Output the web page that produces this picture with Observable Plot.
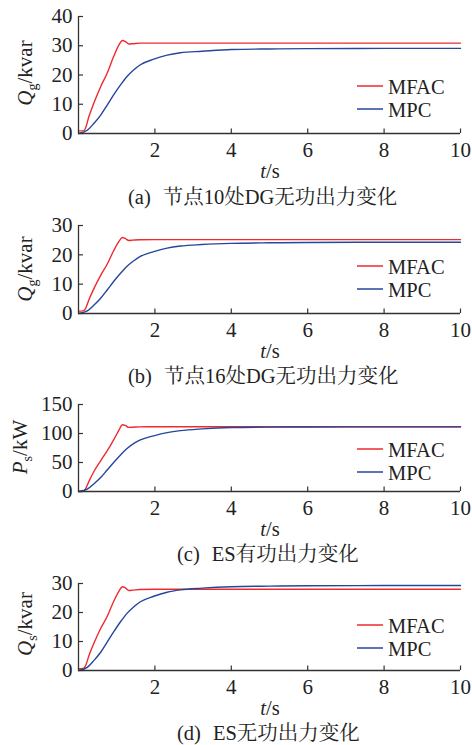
<!DOCTYPE html>
<html>
<head>
<meta charset="utf-8">
<script src="https://cdn.jsdelivr.net/npm/d3@7"></script>
<script src="https://cdn.jsdelivr.net/npm/@observablehq/plot@0.6"></script>
<style>
  html, body { margin: 0; padding: 0; background: #fff; overflow: hidden; }
  #root { position: relative; width: 472px; height: 745px; font-family: "Liberation Serif", "DejaVu Serif", serif; }
  .panel { position: absolute; left: 0; }
  #overlay { position: absolute; left: 0; top: 0; z-index: 2; pointer-events: none; }
  .serif { font-family: "Liberation Serif", "DejaVu Serif", serif; }
  .cap { font-family: "Liberation Serif", "Noto Serif CJK SC", "Noto Sans CJK SC", serif; }
</style>
</head>
<body>
<div id="root"></div>
<script>
// ---- data ----
const xTicks = [2, 4, 6, 8, 10];
const seriesNames = ["MFAC", "MPC"];

const tMFAC = [0, 0.12, 0.18, 0.27, 0.4, 0.58, 0.75, 0.92, 1.06, 1.15, 1.22, 1.32, 1.42, 1.6, 2, 4, 7, 10];
const tMPC  = [0, 0.23, 0.4, 0.58, 0.75, 0.92, 1.1, 1.27, 1.45, 1.62, 1.97, 2.32, 2.67, 3.23, 4, 5, 6, 8, 10];

// (a) node 10 DG reactive power, kvar
const aMFAC = [0.9, 0.9, 1.7, 5.7, 10.3, 16.0, 20.6, 26.3, 30.3, 31.8, 31.5, 30.6, 30.7, 30.9, 30.9, 30.9, 30.9, 30.9];
const aMPC  = [0, 1.1, 3.4, 6.3, 9.7, 13.2, 16.6, 19.5, 21.8, 23.5, 25.4, 26.8, 27.6, 28.1, 28.7, 28.9, 29.0, 29.1, 29.1];
const aTicks = [0, 10, 20, 30, 40];

// (b) node 16 DG reactive power, kvar
const bMFAC = [0.8, 0.9, 1.6, 4.6, 8.4, 13.0, 16.8, 21.4, 24.6, 25.9, 25.6, 24.9, 25.0, 25.15, 25.2, 25.2, 25.2, 25.2];
const bMPC  = [0, 0.9, 2.8, 5.2, 8.0, 10.9, 13.7, 16.1, 18.0, 19.5, 21.1, 22.3, 23.0, 23.5, 23.9, 24.1, 24.2, 24.3, 24.3];
const bTicks = [0, 10, 20, 30];

// (c) ES active power, kW
const cMFAC = [0, 0.5, 4, 17, 34, 53, 70, 89, 106, 115, 114, 110.5, 110.8, 111.5, 111.6, 111.6, 111.6, 111.6];
const cMPC  = [0, 4, 13, 24, 37, 50, 63, 74, 83, 89, 96, 101.5, 105, 108, 110.3, 111, 111.2, 111.4, 111.4];
const cTicks = [0, 50, 100, 150];

// (d) ES reactive power, kvar
const dMFAC = [0.6, 0.7, 1.5, 5.0, 9.3, 14.5, 18.6, 23.8, 27.4, 28.9, 28.6, 27.6, 27.7, 27.95, 28, 28, 28, 28];
const dMPC  = [0, 1.1, 3.4, 6.3, 9.8, 13.3, 16.8, 19.7, 22.0, 23.7, 25.6, 27.0, 27.8, 28.4, 28.9, 29.1, 29.2, 29.3, 29.3];
const dTicks = [0, 10, 20, 30];

const captionTags = ["(a)", "(b)", "(c)", "(d)"];
const captionTexts = ["节点10处DG无功出力变化", "节点16处DG无功出力变化", "ES有功出力变化", "ES无功出力变化"];
const yLabels = [["Q", "g", "kvar"], ["Q", "g", "kvar"], ["P", "s", "kW"], ["Q", "s", "kvar"]];
const xLabel = ["t", "/s"];

// ---- layout ----
const W = 472, ML = 78, MR = 12, MT = 10, MB = 32;
const RED = "#ee2a2f", BLUE = "#25479a", AXIS = "#333";
const SERIF = "'Liberation Serif', 'DejaVu Serif', serif";
const panels = [
  {top: 16,  h: 117, ticks: aTicks, mfac: aMFAC, mpc: aMPC, ylx: 32, yly: 73,  leg: 86,  capY: 204, capX: 128},
  {top: 225, h: 88,  ticks: bTicks, mfac: bMFAC, mpc: bMPC, ylx: 32, yly: 269, leg: 266, capY: 383, capX: 128},
  {top: 404, h: 87,  ticks: cTicks, mfac: cMFAC, mpc: cMPC, ylx: 27, yly: 447, leg: 449, capY: 561, capX: 177},
  {top: 583, h: 87,  ticks: dTicks, mfac: dMFAC, mpc: dMPC, ylx: 32, yly: 624, leg: 625, capY: 740, capX: 177}
];

const root = document.getElementById("root");
const plotW = W - ML - MR;

panels.forEach((p) => {
  const mf = tMFAC.map((t, i) => ({t, v: p.mfac[i]}));
  const mp = tMPC.map((t, i) => ({t, v: p.mpc[i]}));
  const ymax = p.ticks[p.ticks.length - 1];
  const chart = Plot.plot({
    width: W,
    height: p.h + MT + MB,
    marginLeft: ML, marginRight: MR, marginTop: MT, marginBottom: MB,
    style: {fontFamily: SERIF, fontSize: "21px", color: "#222", background: "transparent", overflow: "visible"},
    x: {domain: [0, 10]},
    y: {domain: [0, ymax]},
    marks: [
      Plot.axisX({ticks: xTicks, tickSize: 0, tickPadding: 9, label: null, fontFamily: SERIF}),
      Plot.axisY({ticks: p.ticks, tickSize: 0, tickPadding: 6, label: null, fontFamily: SERIF}),
      Plot.tickX(xTicks, {x: d => d, insetTop: p.h - 4.5, stroke: AXIS, strokeWidth: 1.2}),
      Plot.tickY(p.ticks, {y: d => d, insetRight: plotW - 5, stroke: AXIS, strokeWidth: 1.2}),
      Plot.line(mf, {x: "t", y: "v", stroke: RED, strokeWidth: 1.4, curve: "monotone-x"}),
      Plot.line(mp, {x: "t", y: "v", stroke: BLUE, strokeWidth: 1.4, curve: "monotone-x"}),
      Plot.ruleX([0], {stroke: AXIS, strokeWidth: 1.3}),
      Plot.ruleY([0], {stroke: AXIS, strokeWidth: 1.3})
    ]
  });
  chart.setAttribute("font-family", "Liberation Serif, DejaVu Serif, serif");
  const div = document.createElement("div");
  div.className = "panel";
  div.style.top = (p.top - MT) + "px";
  div.appendChild(chart);
  root.appendChild(div);
});

// ---- overlay texts: axis labels, legends, captions ----
let s = `<svg id="overlay" xmlns="http://www.w3.org/2000/svg" width="${W}" height="745" font-size="21" fill="#222">`;
panels.forEach((p, i) => {
  const [m, sub, unit] = yLabels[i];
  s += `<text class="serif" transform="translate(${p.ylx},${p.yly}) rotate(-90)" text-anchor="middle"><tspan font-style="italic">${m}</tspan><tspan font-size="14" dy="5">${sub}</tspan><tspan dy="-5">/${unit}</tspan></text>`;
  const by = p.top + p.h + 45;
  s += `<text class="serif" x="270" y="${by}" text-anchor="middle" font-size="20.5"><tspan font-style="italic">${xLabel[0]}</tspan>${xLabel[1]}</text>`;
  s += `<text class="cap" x="${p.capX}" y="${p.capY}" font-size="20.5">${captionTags[i]}<tspan dx="12">${captionTexts[i]}</tspan></text>`;
  [RED, BLUE].forEach((c, k) => {
    const ly = p.leg + k * 23;
    s += `<line x1="357" x2="383" y1="${ly}" y2="${ly}" stroke="${c}" stroke-width="1.5"/>`;
    s += `<text class="serif" x="388" y="${ly + 7.5}" font-size="20.5">${seriesNames[k]}</text>`;
  });
});
s += `</svg>`;
root.insertAdjacentHTML("beforeend", s);
</script>
</body>
</html>
